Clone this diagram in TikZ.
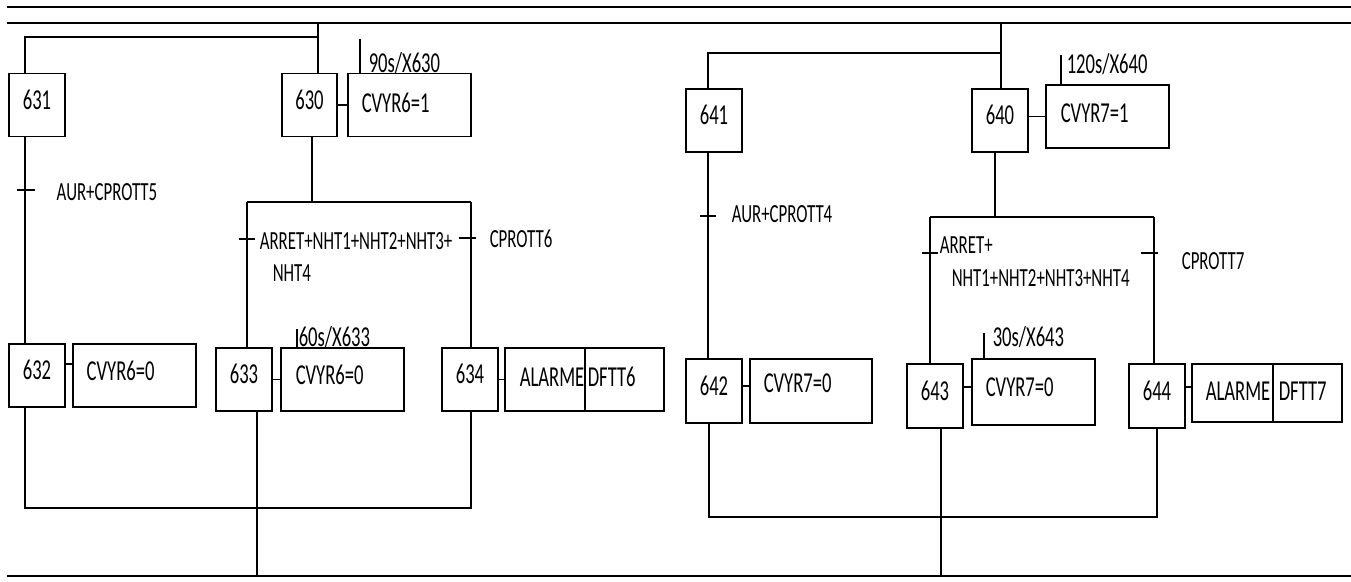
\documentclass[tikz,border=0pt]{standalone}
\usepackage{fontspec}
\setmainfont{Carlito}
\usepackage{graphicx}
\newcommand{\txtL}[1]{\scalebox{1}[1.55]{\fontsize{10.6}{12}\selectfont #1}}
\newcommand{\txtS}[1]{\scalebox{1}[1.55]{\fontsize{9.6}{11}\selectfont #1}}
\begin{document}
\begin{tikzpicture}[x=0.02cm,y=-0.02cm,line width=0.85pt,
  stepbox/.style={draw,inner sep=0pt,minimum width=1.12cm,minimum height=1.27cm,text height=10.4pt,text depth=0.2cm},
  actbox/.style={draw,inner sep=0pt,minimum height=1.27cm},
  lbl/.style={inner sep=0pt,anchor=west}]
\useasboundingbox (0,0) rectangle (1351,581);
% buses
\coordinate (t1a) at (7,7); \coordinate (t1b) at (1351,7);
\coordinate (t2a) at (7,23); \coordinate (t2b) at (1351,23);
\coordinate (b1a) at (7,576); \coordinate (b1b) at (1351,576);
\draw (t1a) -- (t1b);
\draw (t2a) -- (t2b);
\draw (b1a) -- (b1b);

% ================= left grafcet =================
\node[stepbox] (s631) at (37,105) {\txtL{631}};
\node[stepbox,minimum width=1.10cm] (s630) at (309.5,105) {\txtL{630}};
\node[actbox,minimum width=2.46cm] (a630) at (409.5,105) {};
\node[lbl] (t630) at (361,103) {\txtL{CVYR6=1}};
\draw (s630.east) -- (a630.west);
\coordinate (k630) at (360,39);
\draw (k630) -- (k630 |- a630.north);
\node[lbl] (tm630) at (368,63) {\txtL{90s/X630}};

\coordinate (j630) at (318,23);
\coordinate (j631) at (318,37);
\coordinate (c25) at (25,37);
\draw (j630) -- (j630 |- s630.north);
\draw (j631) -- (c25) -- (c25 |- s631.north);

\node[stepbox,minimum height=1.26cm] (s632) at (37,375.5) {\txtL{632}};
\node[actbox,minimum width=2.46cm,minimum height=1.26cm] (a632) at (134.5,375.5) {};
\node[lbl] (t632) at (86,371) {\txtL{CVYR6=0}};
\coordinate (y364) at (0,364);
\draw (s632.east |- y364) -- (a632.west |- y364);
\draw (c25 |- s631.south) -- (c25 |- s632.north);
\draw (17,190) -- (35,190);
\node[lbl] (r631) at (56,192) {\txtS{AUR+CPROTT5}};

\coordinate (d630) at (312,202);
\coordinate (dl6) at (247,202);
\coordinate (dr6) at (471,202);
\draw (d630 |- s630.south) -- (d630);
\draw (dl6) -- (dr6);

\node[stepbox,minimum height=1.26cm] (s633) at (244,379.5) {\txtL{633}};
\node[actbox,minimum width=2.46cm,minimum height=1.26cm] (a633) at (342.5,379.5) {};
\node[lbl] (t633) at (295,375) {\txtL{CVYR6=0}};
\draw (s633.east) -- (a633.west);
\coordinate (k633) at (297,329);
\draw (k633) -- (k633 |- a633.north);
\node[lbl] (tm633) at (298,337) {\txtL{60s/X633}};

\node[stepbox,minimum height=1.26cm] (s634) at (470,379.5) {\txtL{634}};
\node[actbox,minimum width=3.18cm,minimum height=1.26cm] (a634) at (584.5,379.5) {};
\coordinate (v634) at (585,0);
\draw (a634.north -| v634) -- (a634.south -| v634);
\node[lbl] (t634a) at (519,377) {\txtL{ALARME}};
\node[lbl] (t634b) at (587,377) {\txtL{DFTT6}};
\draw (s634.east) -- (a634.west);

\draw (dl6) -- (dl6 |- s633.north);
\draw (dr6) -- (dr6 |- s634.north);
\draw (239,239) -- (255,239);
\draw (459,238) -- (476,238);
\node[lbl] (r630a) at (259,241) {\txtS{ARRET+NHT1+NHT2+NHT3+}};
\node[lbl] (r630b) at (272,273) {\txtS{NHT4}};
\node[lbl] (r630c) at (489,239) {\txtS{CPROTT6}};

\coordinate (m6l) at (25,508);
\coordinate (m6r) at (471,508);
\draw (m6l |- s632.south) -- (m6l) -- (m6r) -- (m6r |- s634.south);
\coordinate (o633) at (257,576);
\draw (o633 |- s633.south) -- (o633);

% ================= right grafcet =================
\node[stepbox,minimum height=1.26cm] (s641) at (714,120.5) {\txtL{641}};
\node[stepbox,minimum height=1.26cm] (s640) at (1000,120.5) {\txtL{640}};
\node[actbox,minimum width=2.46cm,minimum height=1.26cm] (a640) at (1107.5,116.5) {};
\node[lbl] (t640) at (1060,113) {\txtL{CVYR7=1}};
\draw (s640.east |- a640.west) -- (a640.west);
\coordinate (k640) at (1061,55);
\draw (k640) -- (k640 |- a640.north);
\node[lbl] (tm640) at (1066,64) {\txtL{120s/X640}};

\coordinate (j640) at (1001,23);
\coordinate (j641a) at (1001,53);
\coordinate (j641b) at (708,53);
\draw (j640) -- (j640 |- s640.north);
\draw (j641a) -- (j641b) -- (j641b |- s641.north);

\node[stepbox,minimum height=1.28cm] (s642) at (714,391) {\txtL{642}};
\node[actbox,minimum width=2.44cm,minimum height=1.28cm] (a642) at (811,391) {};
\node[lbl] (t642) at (763,383) {\txtL{CVYR7=0}};
\coordinate (y386) at (0,386);
\draw (s642.east |- y386) -- (a642.west |- y386);
\draw (j641b |- s641.south) -- (j641b |- s642.north);
\draw (700,216) -- (716,216);
\node[lbl] (r641) at (731,214) {\txtS{AUR+CPROTT4}};

\coordinate (d640) at (995,217);
\coordinate (dl7) at (930,217);
\coordinate (dr7) at (1154,217);
\draw (d640 |- s640.south) -- (d640);
\draw (dl7) -- (dr7);

\node[stepbox,minimum height=1.28cm] (s643) at (935,396) {\txtL{643}};
\node[actbox,minimum width=2.46cm,minimum height=1.32cm] (a643) at (1033.5,392) {};
\node[lbl] (t643) at (985,387) {\txtL{CVYR7=0}};
\coordinate (y387) at (0,387);
\draw (s643.east |- y387) -- (a643.west |- y387);
\coordinate (k643) at (984,333);
\draw (k643) -- (k643 |- a643.north);
\node[lbl] (tm643) at (992,337) {\txtL{30s/X643}};

\node[stepbox,minimum height=1.28cm] (s644) at (1157,396) {\txtL{644}};
\node[actbox,minimum width=3.0cm,minimum height=1.16cm] (a644) at (1267,393) {};
\coordinate (v644) at (1273,0);
\draw (a644.north -| v644) -- (a644.south -| v644);
\node[lbl] (t644a) at (1205,391) {\txtL{ALARME}};
\node[lbl] (t644b) at (1278,391) {\txtL{DFTT7}};
\draw (s644.east |- y387) -- (a644.west |- y387);

\draw (dl7) -- (dl7 |- s643.north);
\draw (dr7) -- (dr7 |- s644.north);
\draw (922,253) -- (938,253);
\draw (1141,253) -- (1158,253);
\node[lbl] (r640a) at (939,245) {\txtS{ARRET+}};
\node[lbl] (r640b) at (951,278) {\txtS{NHT1+NHT2+NHT3+NHT4}};
\node[lbl] (r640c) at (1181,261) {\txtS{CPROTT7}};

\coordinate (m7l) at (709,517);
\coordinate (m7r) at (1157,517);
\draw (m7l |- s642.south) -- (m7l) -- (m7r) -- (m7r |- s644.south);
\coordinate (o643) at (941,576);
\draw (o643 |- s643.south) -- (o643);
\end{tikzpicture}
\end{document}
